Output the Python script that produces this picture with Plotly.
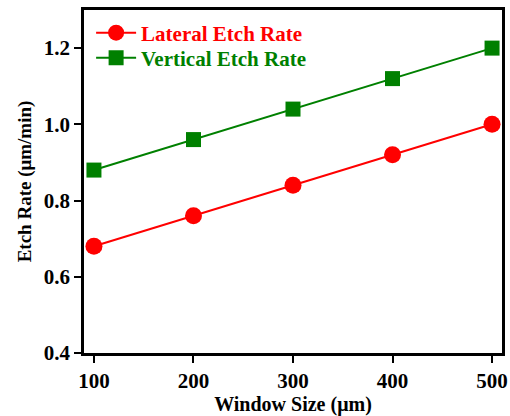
import plotly.graph_objects as go

window_size = [100, 200, 300, 400, 500]
lateral_rate = [0.68, 0.76, 0.84, 0.92, 1.00]
vertical_rate = [0.88, 0.96, 1.04, 1.12, 1.20]

font_family = "Liberation Serif"

fig = go.Figure()
fig.add_trace(go.Scatter(
    x=window_size, y=lateral_rate, mode="lines+markers",
    name="<span style='color:#ff0000;font-weight:bold'>Lateral Etch Rate</span>",
    line=dict(color="#ff0000", width=2),
    marker=dict(symbol="circle", size=17, color="#ff0000"),
    legend="legend",
))
fig.add_trace(go.Scatter(
    x=window_size, y=vertical_rate, mode="lines+markers",
    name="<span style='color:#008000;font-weight:bold'>Vertical Etch Rate</span>",
    line=dict(color="#008000", width=2),
    marker=dict(symbol="square", size=15, color="#008000"),
    legend="legend2",
))

axis_common = dict(
    showline=True, linecolor="black", linewidth=2.5, mirror=True,
    ticks="outside", ticklen=7, tickwidth=2, tickcolor="black",
    showgrid=False, zeroline=False, automargin=False,
    tickfont=dict(family=font_family, size=21, color="black", weight="bold"),
)

legend_common = dict(
    x=0.017, xanchor="left", yanchor="middle",
    bgcolor="rgba(0,0,0,0)",
    font=dict(family=font_family, size=21, weight="bold"),
    itemwidth=40,
)

fig.update_layout(
    width=510, height=416,
    margin=dict(l=84, r=8, t=10, b=63),
    paper_bgcolor="white", plot_bgcolor="white",
    font=dict(family=font_family, color="black"),
    xaxis=dict(range=[90, 510], tickvals=window_size,
               title=dict(text="<b>Window Size (μm)</b>",
                          font=dict(family=font_family, size=20), standoff=6),
               **axis_common),
    yaxis=dict(range=[0.4, 1.3], tickvals=[0.4, 0.6, 0.8, 1.0, 1.2],
               ticktext=["0.4", "0.6", "0.8", "1.0", "1.2"],
               title=dict(text="<b>Etch Rate (μm/min)</b>",
                          font=dict(family=font_family, size=19), standoff=8),
               **axis_common),
    legend=dict(y=0.933, **legend_common),
    legend2=dict(y=0.860, **legend_common),
    showlegend=True,
)

fig.write_html("out.html")
